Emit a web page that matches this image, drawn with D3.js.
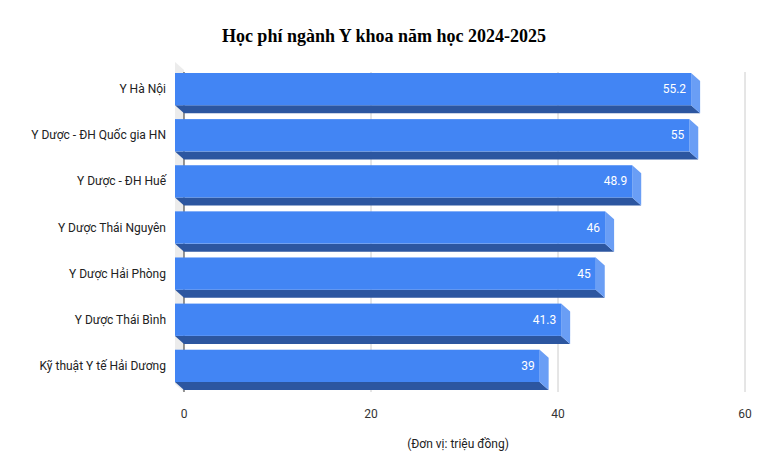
<!DOCTYPE html><html><head><meta charset="utf-8"><script src="https://cdn.jsdelivr.net/npm/d3@7"></script>
<style>body{margin:0;background:#fff}</style></head><body><svg id="c" width="769" height="476"></svg>
<script>
const categories=["Y Hà Nội","Y Dược - ĐH Quốc gia HN","Y Dược - ĐH Huế","Y Dược Thái Nguyên","Y Dược Hải Phòng","Y Dược Thái Bình","Kỹ thuật Y tế Hải Dương"];
const values=[55.2,55,48.9,46,45,41.3,39];
const ticks=[0,20,40,60];
const svg=d3.select("#c");
const x=d3.scaleLinear().domain([0,60]).range([184,745]);
const y=d3.scaleBand().domain(categories).range([67,388]).paddingInner(0.3).paddingOuter(0.13);
const dx=9,dy=8;
svg.append("text").attr("x",384).attr("y",42).attr("text-anchor","middle").attr("font-family","Liberation Serif").attr("font-weight","bold").attr("font-size",18).text("Học phí ngành Y khoa năm học 2024-2025");
// wall
svg.append("polygon").attr("points",[[x(0)-dx,62],[x(0),70],[x(0),392],[x(0)-dx,384]].join(" ")).attr("fill","#ececec");
svg.selectAll(".g").data(ticks).join("line").attr("x1",d=>x(d)).attr("x2",d=>x(d)).attr("y1",72).attr("y2",392).attr("stroke",d=>d===0?"#333":"#ccc").attr("stroke-width",1);
svg.selectAll(".t").data(ticks).join("text").attr("x",d=>x(d)).attr("y",418).attr("text-anchor","middle").attr("font-family","Roboto").attr("font-size",12).attr("fill","#333").text(d=>d);
const g=svg.selectAll(".b").data(categories).join("g");
g.each(function(c,i){
 const s=d3.select(this),t=y(c),h=y.bandwidth(),x0=x(0)-dx,x1=x(values[i])-dx;
 s.append("polygon").attr("points",[[x0,t+h],[x1,t+h],[x1+dx,t+h+dy],[x0+dx,t+h+dy]].join(" ")).attr("fill","#2c56a0");
 s.append("polygon").attr("points",[[x1,t],[x1+dx,t+dy],[x1+dx,t+h+dy],[x1,t+h]].join(" ")).attr("fill","#6a9ef5");
 s.append("rect").attr("x",x0).attr("y",t).attr("width",x1-x0).attr("height",h).attr("fill","#4285f4");
 s.append("text").attr("x",x1-5).attr("y",t+h/2+4).attr("text-anchor","end").attr("font-family","Roboto").attr("font-size",12).attr("fill","#fff").text(values[i]);
 s.append("text").attr("x",166).attr("y",t+h/2+4).attr("text-anchor","end").attr("font-family","Roboto").attr("font-size",12).attr("fill","#222").text(c);
});
svg.append("text").attr("x",458).attr("y",448).attr("text-anchor","middle").attr("font-family","Roboto").attr("font-size",12).attr("fill","#222").text("(Đơn vị: triệu đồng)");
</script></body></html>
